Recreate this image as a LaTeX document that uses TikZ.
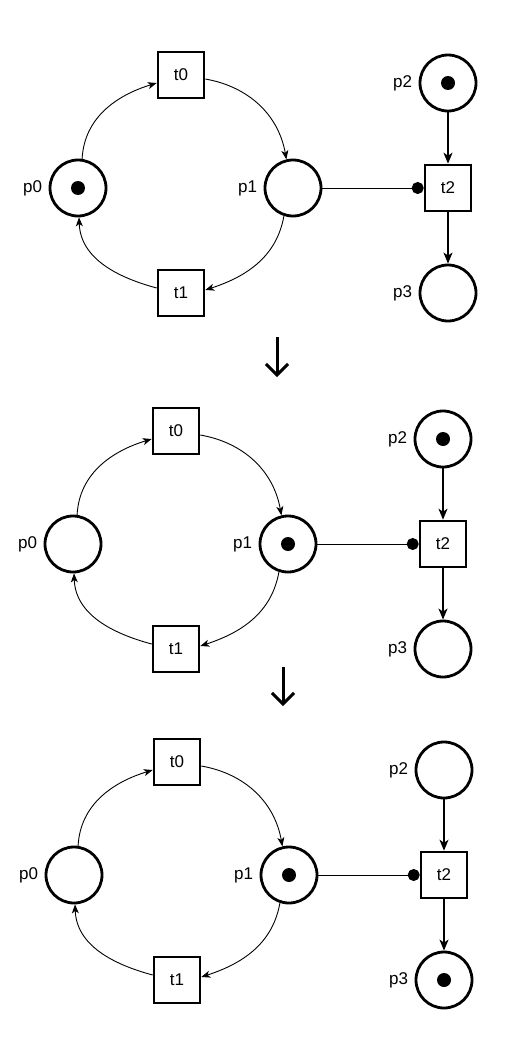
\documentclass[tikz,border=0pt]{standalone}
\usepackage{fontspec}
\setmainfont{Liberation Sans}
\usetikzlibrary{arrows.meta}
\tikzset{
  pnplace/.style={circle, draw, line width=2.8pt, minimum size=56pt, inner sep=0pt},
  pntrans/.style={rectangle, draw, line width=2.6pt, minimum size=46pt, inner sep=0pt,
    font=\fontsize{17}{20}\selectfont},
  pntoken/.style={circle, fill, minimum size=14pt, inner sep=0pt},
  pnlbl/.style={font=\fontsize{17}{20}\selectfont, label distance=3pt},
  flowarc/.style={line width=0.9pt, -{Stealth[length=9pt,width=7pt,inset=2.5pt]}},
  vertarc/.style={line width=1.4pt, -{Stealth[length=11pt,width=9pt,inset=3pt]}},
  inhibarc/.style={line width=1pt, -{Circle[length=12pt]}},
  nextarrow/.style={line width=3pt, -{Straight Barb[length=11pt,width=22pt,line width=3pt]}}
}
\newcommand\petrinet[3]{%
\begin{scope}[shift={(#2,#3)}]
  \node[pnplace, label={[pnlbl]left:p0}] (#1p0) at (78,-188) {};
  \node[pnplace, label={[pnlbl]left:p1}] (#1p1) at (293,-188) {};
  \node[pnplace, label={[pnlbl]left:p2}] (#1p2) at (448,-83) {};
  \node[pnplace, label={[pnlbl]left:p3}] (#1p3) at (448,-293) {};
  \node[pntrans] (#1t0) at (181,-75) {t0};
  \node[pntrans] (#1t1) at (181,-293) {t1};
  \node[pntrans] (#1t2) at (448,-188) {t2};
  \draw[flowarc] (#1p0.82) to[out=87, in=197] ([yshift=-8pt]#1t0.west);
  \draw[flowarc] ([yshift=-4pt]#1t0.east) to[out=-10, in=100] (#1p1.103);
  \draw[flowarc] (#1p1.252) to[out=-100, in=18] ([yshift=3pt]#1t1.east);
  \draw[flowarc] ([yshift=5pt]#1t1.west) to[out=165, in=-88] (#1p0.-88);
  \draw[vertarc] (#1p2) -- (#1t2);
  \draw[vertarc] (#1t2) -- (#1p3);
  \draw[inhibarc] (#1p1.east) -- (#1t2.west);
\end{scope}}
\begin{document}
\begin{tikzpicture}[x=1pt, y=1pt]
  \useasboundingbox (0,0) rectangle (528,-1057);
  \fill[white] (0,0) rectangle (528,-1057);
  \petrinet{a}{0}{0}
  \petrinet{b}{-5}{-356}
  \petrinet{c}{-4}{-687}
  \node[pntoken] (atok0) at (ap0) {};
  \node[pntoken] (atok2) at (ap2) {};
  \node[pntoken] (btok1) at (bp1) {};
  \node[pntoken] (btok2) at (bp2) {};
  \node[pntoken] (ctok1) at (cp1) {};
  \node[pntoken] (ctok3) at (cp3) {};
  \coordinate (stepAtop) at (277,-337);
  \coordinate (stepAend) at (277,-377);
  \coordinate (stepBtop) at (283,-667);
  \coordinate (stepBend) at (283,-706);
  \draw[nextarrow] (stepAtop) -- (stepAend);
  \draw[nextarrow] (stepBtop) -- (stepBend);
\end{tikzpicture}
\end{document}
